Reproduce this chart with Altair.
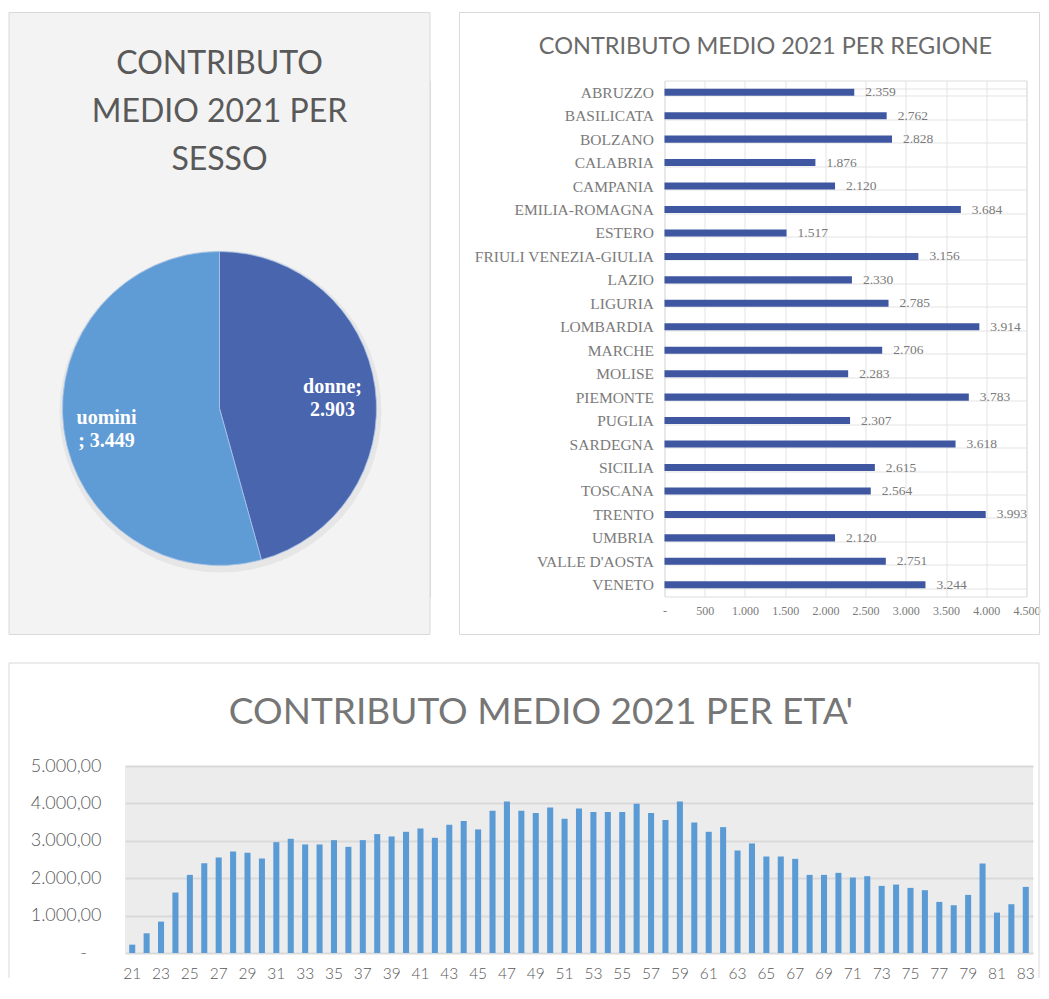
import altair as alt
import pandas as pd

# ---------------- data ----------------
pie_title_lines = ["CONTRIBUTO", "MEDIO 2021 PER", "SESSO"]
sexes = ["donne", "uomini"]
sex_values = [2903, 3449]
sex_label_lines = [["donne;", "2.903"], ["uomini", "; 3.449"]]
sex_colors = ["#4865ae", "#5f9bd4"]

region_title = "CONTRIBUTO MEDIO 2021 PER REGIONE"
regions = ["ABRUZZO", "BASILICATA", "BOLZANO", "CALABRIA", "CAMPANIA",
           "EMILIA-ROMAGNA", "ESTERO", "FRIULI VENEZIA-GIULIA", "LAZIO",
           "LIGURIA", "LOMBARDIA", "MARCHE", "MOLISE", "PIEMONTE", "PUGLIA",
           "SARDEGNA", "SICILIA", "TOSCANA", "TRENTO", "UMBRIA",
           "VALLE D'AOSTA", "VENETO"]
region_values = [2359, 2762, 2828, 1876, 2120, 3684, 1517, 3156, 2330, 2785,
                 3914, 2706, 2283, 3783, 2307, 3618, 2615, 2564, 3993, 2120,
                 2751, 3244]
region_ticks = [0, 500, 1000, 1500, 2000, 2500, 3000, 3500, 4000, 4500]

age_title = "CONTRIBUTO MEDIO 2021 PER ETA'"
ages = [21, 22, 23, 24, 25, 26, 27, 28, 29, 30, 31, 32, 33, 34, 35, 36, 37,
        38, 39, 40, 41, 42, 43, 44, 45, 46, 47, 48, 49, 50, 51, 52, 53, 54,
        55, 56, 57, 58, 59, 60, 61, 62, 63, 64, 65, 66, 67, 68, 69, 70, 71,
        72, 73, 74, 75, 76, 77, 78, 79, 80, 81, 82, 83]
age_values = [223, 527, 839, 1616, 2089, 2402, 2554, 2714, 2679, 2527, 2964,
              3054, 2902, 2902, 3018, 2839, 3018, 3179, 3116, 3241, 3330, 3080,
              3429, 3527, 3304, 3804, 4054, 3804, 3741, 3893, 3589, 3866, 3768,
              3768, 3768, 3991, 3741, 3554, 4054, 3491, 3241, 3366, 2741, 2929,
              2580, 2580, 2518, 2089, 2089, 2143, 2018, 2054, 1795, 1830, 1741,
              1679, 1366, 1277, 1554, 2393, 1080, 1304, 1768]
age_tick_labels = [21, 23, 25, 27, 29, 31, 33, 35, 37, 39, 41, 43, 45, 47, 49,
                   51, 53, 55, 57, 59, 61, 63, 65, 67, 69, 71, 73, 75, 77, 79,
                   81, 83]
age_y_ticks = [0, 1000, 2000, 3000, 4000, 5000]

pie_df = pd.DataFrame({"sex": sexes, "value": sex_values, "lines": sex_label_lines})
reg_df = pd.DataFrame({"region": regions, "value": region_values})
age_df = pd.DataFrame({"age": ages, "value": age_values})

one = alt.Data(values=[{}])
BORDER = "#d9d9d9"
SERIF = "Liberation Serif"

# ---------------- panel A : pie ----------------
# view spans page x 124..429, y 80..596 ; panel box reaches x 8, y 12..634
WA, HA = 305, 516
cx, cy = 94.5, 328

bgA = alt.Chart(one).mark_rect(fill="#f3f3f3", stroke=BORDER, strokeWidth=1).encode(
    x=alt.value(-116), x2=alt.value(WA), y=alt.value(-68), y2=alt.value(HA + 38))

titleA = alt.Chart(one).mark_text(
    text=pie_title_lines, font="Lato", fontSize=32, color="#595959",
    lineHeight=48, align="center", baseline="alphabetic").encode(
    x=alt.value(cx), y=alt.value(-7))

shadow = alt.Chart(one).mark_arc(theta=0, theta2=6.2832, outerRadius=161,
                                 color="#000000", opacity=0.05).encode(
    x=alt.value(cx + 1), y=alt.value(cy + 3))

pie = alt.Chart(pie_df).mark_arc(outerRadius=157, stroke="#a9c4ea", strokeWidth=0.8).encode(
    theta=alt.Theta("value:Q", stack=True),
    color=alt.Color("sex:N", scale=alt.Scale(domain=sexes, range=sex_colors), legend=None),
    order=alt.Order("sex:N"),
    x=alt.value(cx), y=alt.value(cy))

pie_text = alt.Chart(pie_df).mark_text(
    radius=114, font=SERIF, fontSize=20, fontWeight="bold", color="white",
    lineHeight=23, align="center", baseline="alphabetic").encode(
    theta=alt.Theta("value:Q", stack=True),
    detail="sex:N",
    order=alt.Order("sex:N"),
    text="lines:N",
    x=alt.value(cx), y=alt.value(cy))

panelA = alt.layer(bgA, titleA, shadow, pie, pie_text).properties(width=WA, height=HA)

# ---------------- panel B : regions ----------------
# view spans page x 663..1025, y 80..596 ; panel box x 458..1038
WB, HB = 362, 516
LABEL_GRAY = "#7a7a7a"

bgB = alt.Chart(one).mark_rect(fillOpacity=0, stroke=BORDER, strokeWidth=1).encode(
    x=alt.value(-205), x2=alt.value(375), y=alt.value(-68), y2=alt.value(HB + 38))

titleB = alt.Chart(one).mark_text(
    text=region_title, font="Lato", fontSize=23.5, color="#6a6a6a",
    align="center", baseline="alphabetic").encode(x=alt.value(101), y=alt.value(-27))

yB = alt.Y("region:N", sort=regions,
           scale=alt.Scale(paddingInner=0.7, paddingOuter=0.35),
           axis=alt.Axis(title=None, grid=True, tickBand="extent", gridColor="#e3e3e3",
                         ticks=False, domain=False, labelFont=SERIF, labelFontSize=15.5,
                         labelColor=LABEL_GRAY, labelPadding=11))
xB = alt.X("value:Q", scale=alt.Scale(domain=[0, 4500], nice=False),
           axis=alt.Axis(values=region_ticks, title=None, grid=True, gridColor="#e3e3e3",
                         ticks=False, domain=False, format=",d", labelOverlap=False,
                         labelFlush=False,
                         labelExpr="datum.value == 0 ? '-' : datum.label",
                         labelFont=SERIF, labelFontSize=12, labelColor=LABEL_GRAY,
                         labelPadding=9))

barsB = alt.Chart(reg_df).mark_bar(color="#3f57a1").encode(y=yB, x=xB)
valsB = alt.Chart(reg_df).mark_text(align="left", baseline="middle", dx=11, font=SERIF,
                                    fontSize=13.5, color=LABEL_GRAY).encode(
    y=alt.Y("region:N", sort=regions), x="value:Q",
    text=alt.Text("value:Q", format=",d"))

panelB = alt.layer(bgB, titleB, barsB, valsB).properties(width=WB, height=HB)

# ---------------- panel C : ages ----------------
# view spans page x 124..1032, y 765..952 ; panel box x 8..1038, from y 662
WC, HC = 908, 187

ruleTop = alt.Chart(one).mark_rule(color=BORDER, strokeWidth=1).encode(
    x=alt.value(-116), x2=alt.value(914), y=alt.value(-103))
ruleLeft = alt.Chart(one).mark_rule(color=BORDER, strokeWidth=1).encode(
    x=alt.value(-116), y=alt.value(-103), y2=alt.value(212))
ruleRight = alt.Chart(one).mark_rule(color=BORDER, strokeWidth=1).encode(
    x=alt.value(914), y=alt.value(-103), y2=alt.value(212))

titleC = alt.Chart(one).mark_text(
    text=age_title, font="Lato", fontSize=37, color="#767676",
    align="center", baseline="alphabetic").encode(x=alt.value(416), y=alt.value(-42))

barsC = alt.Chart(age_df).mark_bar(color="#5b9bd5").encode(
    x=alt.X("age:O", scale=alt.Scale(paddingInner=0.58, paddingOuter=0.29),
            axis=alt.Axis(values=age_tick_labels, title=None, labelAngle=0, ticks=False,
                          domain=False, grid=False, labelFont="Lato", labelFontSize=15.5,
                          labelFontWeight=300, labelColor="#595959", labelPadding=13)),
    y=alt.Y("value:Q", scale=alt.Scale(domain=[0, 5000], nice=False),
            axis=alt.Axis(values=age_y_ticks, title=None, format=",.2f",
                          labelExpr="datum.value == 0 ? '-\u00a0\u00a0\u00a0\u200b' : datum.label",
                          grid=True, gridColor="#d9d9d9", gridWidth=2, ticks=False,
                          domain=False, labelFont="Lato", labelFontSize=18,
                          labelFontWeight=300, labelColor="#595959", labelPadding=24)))

panelC = alt.layer(ruleTop, ruleLeft, ruleRight, titleC, barsC).properties(
    width=WC, height=HC, view=alt.ViewBackground(fill="#ececec", strokeWidth=0))

row1 = alt.hconcat(panelA, panelB, spacing=27.5)
chart = alt.vconcat(row1, panelC, spacing=26.5).properties(
    padding={"left": 0, "top": 3.5, "right": 0, "bottom": 0}
).configure_view(strokeWidth=0).configure(
    locale=alt.Locale(number=alt.NumberLocale(decimal=",", thousands=".",
                                              grouping=[3], currency=["€", ""]))
)

chart.save("out.html", embed_options={"renderer": "svg", "actions": False})
